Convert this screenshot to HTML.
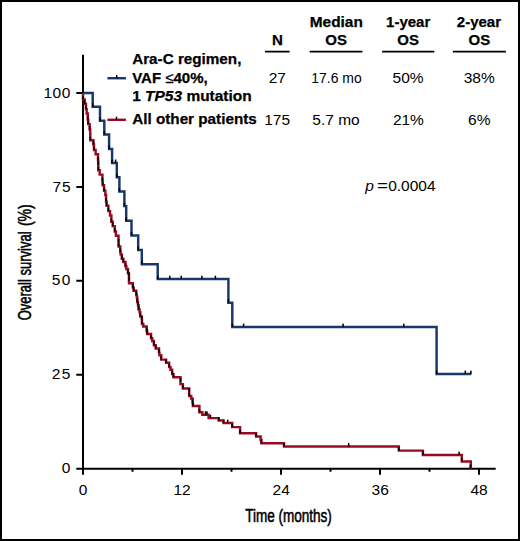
<!DOCTYPE html>
<html><head><meta charset="utf-8"><style>
html,body{margin:0;padding:0;background:#fff;}
body{width:520px;height:541px;overflow:hidden;}
svg{display:block;}
#w{width:520px;height:541px;}
text{font-family:"Liberation Sans",sans-serif;fill:#000;}
.b{font-weight:bold;font-size:15px;stroke:#000;stroke-width:0.25px;}
.r{font-size:15.5px;}
.t{font-size:15.5px;}
.c{text-anchor:middle;}
.e{text-anchor:end;}
</style></head><body><div id="w">
<svg width="520" height="541" viewBox="0 0 520 541">
<rect x="1" y="1" width="518" height="539" fill="#fff" stroke="#000" stroke-width="2"/>
<!-- axes -->
<g stroke="#000" stroke-width="2" fill="none">
<path d="M83,54.7V474.7"/>
<path d="M76.3,468.7H495.7"/>
<path d="M76.3,93.1H83M76.3,187H83M76.3,280.8H83M76.3,374.7H83"/>
<path d="M182,468.7V474.7M281,468.7V474.7M380,468.7V474.7M479,468.7V474.7"/>
<path d="M132.5,468.7V471.7M231.5,468.7V471.7M330.5,468.7V471.7M429.5,468.7V471.7"/>
</g>
<!-- y tick labels -->
<g class="r e">
<text class="t e" x="70.3" y="97.6" textLength="26.8" lengthAdjust="spacing">100</text>
<text class="t e" x="70.5" y="191.5" textLength="18" lengthAdjust="spacing">75</text>
<text class="t e" x="70.3" y="285.3" textLength="18.6" lengthAdjust="spacing">50</text>
<text class="t e" x="70.3" y="379.1" textLength="18.6" lengthAdjust="spacing">25</text>
<text class="t e" x="70.3" y="473.4">0</text>
</g>
<g>
<text class="t c" x="83" y="494.6">0</text>
<text class="t c" x="182" y="494.6">12</text>
<text class="t c" x="281.2" y="494.6">24</text>
<text class="t c" x="380.2" y="494.6">36</text>
<text class="t c" x="479.1" y="494.6">48</text>
</g>
<text transform="translate(288.5,521.6) scale(0.765,1)" style="font-size:17.7px;stroke:#000;stroke-width:0.55px" class="c">Time (months)</text>
<text transform="translate(30.7,320.3) rotate(-90) scale(0.735,1)" style="font-size:17.7px;stroke:#000;stroke-width:0.55px">Overall survival <tspan dx="2.4" style="font-size:19.2px">(%)</tspan></text>
<!-- curves -->
<path d="M83,93H83.00V99.40H84.68V103.70H85.98V109.10H86.65V113.40H87.76V119.80H88.23V124.10H89.64V129.50H90.19V133.80H90.30V140.20H93.40V144.50H93.99V149.90H95.62V154.20H98.02V160.60H98.26V164.90H98.35V170.30H99.70V174.60H102.42V181.00H102.68V185.30H104.07V190.70H105.34V195.00H106.07V201.40H106.58V205.70H108.38V211.10H110.04V215.40H111.37V221.80H112.72V226.10H114.76V231.50H115.90V235.80H118.52V242.20H118.60V246.50H120.29V251.90H120.61V254.50H121.82V258.80H123.34V262.00H125.45V266.30H126.33V268.90H127.96V273.20H128.91V276.40H129.00V280.70H129.00V283.30H132.84V287.60H133.60V290.80H136.29V295.10H136.90V297.70H137.29V302.00H137.97V305.20H138.61V309.50H139.58V312.10H140.30V316.40H141.80V319.60H142.00V323.90H143.27V326.50H146.66V330.80H147.15V334.00H151.08V338.30H152.27V340.90H153.88V345.20H155.67V348.40H159.01V352.70H159.42V355.30H161.25V359.60H166.08V362.80H169.17V367.10H170.48V369.70H172.18V374.00H173.40V377.20H180.50V381.50H180.50V384.10H182.85V388.40H189.20V391.60H189.20V395.90H191.18V398.50H192.58V402.80H192.88V406.00H199.4V412.3H202.3V414.7H208.6V418.1H218.7V420.5H223.5V423.0H232.2V427.1H240.1V433.3H256.1V436.5H260.6V439.8H261.4V443.2H284.0V446.5H398.8V450.6H422.9V455.0H461.8V461.4H470.8V468.7" stroke="#9c0a22" stroke-width="2.45" fill="none" stroke-linejoin="miter" stroke-linecap="butt"/>
<path d="M83,93.0H92.7V106.8H100.0V120.8H104.3V134.5H109.1V148.9H112.1V162.9H116.8V177.3H119.4V191.5H124.4V206.1H126.2V220.8H131.5V235.4H138.2V249.9H141.8V264.2H157.7V279.05H228.4V302.7H232.3V327.0H436.6V374.0H471.3" stroke="#17376e" stroke-width="2.45" fill="none" stroke-linejoin="miter" stroke-linecap="butt"/>
<g fill="#000"><rect x="114.85" y="159.50" width="1.5" height="3.4"/><rect x="169.05" y="275.65" width="1.5" height="3.4"/><rect x="180.45" y="275.65" width="1.5" height="3.4"/><rect x="201.15" y="275.65" width="1.5" height="3.4"/><rect x="214.65" y="275.65" width="1.5" height="3.4"/><rect x="242.85" y="323.60" width="1.5" height="3.4"/><rect x="342.35" y="323.60" width="1.5" height="3.4"/><rect x="403.05" y="323.60" width="1.5" height="3.4"/><rect x="464.55" y="370.60" width="1.5" height="3.4"/><rect x="470.15" y="370.60" width="1.5" height="3.4"/><rect x="91.95" y="103.40" width="1.5" height="3.4"/><rect x="99.25" y="117.40" width="1.5" height="3.4"/><rect x="103.55" y="131.10" width="1.5" height="3.4"/><rect x="108.35" y="145.50" width="1.5" height="3.4"/><rect x="111.35" y="159.50" width="1.5" height="3.4"/><rect x="116.05" y="173.90" width="1.5" height="3.4"/><rect x="118.65" y="188.10" width="1.5" height="3.4"/><rect x="123.65" y="202.70" width="1.5" height="3.4"/><rect x="125.45" y="217.40" width="1.5" height="3.4"/><rect x="130.75" y="232.00" width="1.5" height="3.4"/><rect x="137.45" y="246.50" width="1.5" height="3.4"/><rect x="141.05" y="260.80" width="1.5" height="3.4"/><rect x="156.95" y="275.65" width="1.5" height="3.4"/><rect x="227.65" y="299.30" width="1.5" height="3.4"/><rect x="231.55" y="323.60" width="1.5" height="3.4"/><rect x="435.85" y="370.60" width="1.5" height="3.4"/><rect x="461.05" y="458.00" width="1.5" height="3.4"/><rect x="422.15" y="451.60" width="1.5" height="3.4"/><rect x="398.05" y="447.20" width="1.5" height="3.4"/><rect x="260.65" y="439.80" width="1.5" height="3.4"/><rect x="206.25" y="411.30" width="1.5" height="3.4"/><rect x="226.95" y="419.60" width="1.5" height="3.4"/><rect x="347.95" y="443.10" width="1.5" height="3.4"/><rect x="458.35" y="451.60" width="1.5" height="3.4"/><rect x="469.65" y="464.60" width="1.5" height="3.4"/><rect x="217.95" y="417.10" width="1.5" height="3.4"/><rect x="222.75" y="419.60" width="1.5" height="3.4"/><rect x="209.75" y="414.70" width="1.5" height="3.4"/><rect x="204.75" y="411.30" width="1.5" height="3.4"/><rect x="198.65" y="408.90" width="1.5" height="3.4"/><rect x="255.35" y="433.10" width="1.5" height="3.4"/><rect x="239.35" y="429.90" width="1.5" height="3.4"/><rect x="231.45" y="423.70" width="1.5" height="3.4"/><rect x="283.25" y="443.10" width="1.5" height="3.4"/><rect x="82.25" y="96.00" width="1.5" height="3.4"/><rect x="83.93" y="100.30" width="1.5" height="3.4"/><rect x="85.23" y="105.70" width="1.5" height="3.4"/><rect x="87.01" y="116.40" width="1.5" height="3.4"/><rect x="87.48" y="120.70" width="1.5" height="3.4"/><rect x="88.89" y="126.10" width="1.5" height="3.4"/><rect x="89.55" y="136.80" width="1.5" height="3.4"/><rect x="92.65" y="141.10" width="1.5" height="3.4"/><rect x="93.24" y="146.50" width="1.5" height="3.4"/><rect x="97.27" y="157.20" width="1.5" height="3.4"/><rect x="97.51" y="161.50" width="1.5" height="3.4"/><rect x="97.60" y="166.90" width="1.5" height="3.4"/><rect x="101.67" y="177.60" width="1.5" height="3.4"/><rect x="101.93" y="181.90" width="1.5" height="3.4"/><rect x="103.32" y="187.30" width="1.5" height="3.4"/><rect x="105.32" y="198.00" width="1.5" height="3.4"/><rect x="105.83" y="202.30" width="1.5" height="3.4"/><rect x="107.63" y="207.70" width="1.5" height="3.4"/><rect x="110.62" y="218.40" width="1.5" height="3.4"/><rect x="111.97" y="222.70" width="1.5" height="3.4"/><rect x="114.01" y="228.10" width="1.5" height="3.4"/><rect x="117.77" y="238.80" width="1.5" height="3.4"/><rect x="117.85" y="243.10" width="1.5" height="3.4"/><rect x="119.54" y="248.50" width="1.5" height="3.4"/><rect x="121.07" y="255.40" width="1.5" height="3.4"/><rect x="122.59" y="258.60" width="1.5" height="3.4"/><rect x="124.70" y="262.90" width="1.5" height="3.4"/><rect x="127.21" y="269.80" width="1.5" height="3.4"/><rect x="128.16" y="273.00" width="1.5" height="3.4"/><rect x="128.25" y="277.30" width="1.5" height="3.4"/><rect x="132.09" y="284.20" width="1.5" height="3.4"/><rect x="132.85" y="287.40" width="1.5" height="3.4"/><rect x="135.54" y="291.70" width="1.5" height="3.4"/><rect x="136.54" y="298.60" width="1.5" height="3.4"/><rect x="137.22" y="301.80" width="1.5" height="3.4"/><rect x="137.86" y="306.10" width="1.5" height="3.4"/><rect x="139.55" y="313.00" width="1.5" height="3.4"/><rect x="141.05" y="316.20" width="1.5" height="3.4"/><rect x="141.25" y="320.50" width="1.5" height="3.4"/><rect x="145.91" y="327.40" width="1.5" height="3.4"/><rect x="146.40" y="330.60" width="1.5" height="3.4"/><rect x="150.33" y="334.90" width="1.5" height="3.4"/><rect x="153.13" y="341.80" width="1.5" height="3.4"/><rect x="154.92" y="345.00" width="1.5" height="3.4"/><rect x="158.26" y="349.30" width="1.5" height="3.4"/><rect x="160.50" y="356.20" width="1.5" height="3.4"/><rect x="165.33" y="359.40" width="1.5" height="3.4"/><rect x="168.42" y="363.70" width="1.5" height="3.4"/><rect x="171.43" y="370.60" width="1.5" height="3.4"/><rect x="172.65" y="373.80" width="1.5" height="3.4"/><rect x="179.75" y="378.10" width="1.5" height="3.4"/><rect x="182.10" y="385.00" width="1.5" height="3.4"/><rect x="188.45" y="388.20" width="1.5" height="3.4"/><rect x="188.45" y="392.50" width="1.5" height="3.4"/><rect x="191.83" y="399.40" width="1.5" height="3.4"/><rect x="192.13" y="402.60" width="1.5" height="3.4"/></g>
<!-- legend -->
<path d="M107.4,78.2H125.9" stroke="#17376e" stroke-width="2.45"/>
<path d="M107.4,119.8H125.9" stroke="#9c0a22" stroke-width="2.45"/>
<g fill="#000"><rect x="116" y="75" width="1.4" height="3.3"/><rect x="115.8" y="116.6" width="1.4" height="3.3"/></g>
<text class="b" x="132.2" y="64.4" textLength="109.2" lengthAdjust="spacingAndGlyphs">Ara-C regimen,</text>
<text class="b" x="132.2" y="82.5">VAF <tspan font-weight="normal">≤</tspan>40%,</text>
<text class="b" x="132.2" y="100.6" textLength="119.5" lengthAdjust="spacingAndGlyphs">1 <tspan font-style="italic">TP53</tspan> mutation</text>
<text class="b" x="132.2" y="124.1" textLength="124.6" lengthAdjust="spacingAndGlyphs">All other patients</text>
<!-- table header -->
<text class="b c" x="277.3" y="45.1">N</text>
<text class="b c" x="336.3" y="26.8" textLength="53.2" lengthAdjust="spacingAndGlyphs">Median</text>
<text class="b c" x="336.2" y="44.8">OS</text>
<text class="b c" x="408.2" y="26.8">1-year</text>
<text class="b c" x="408.2" y="44.8">OS</text>
<text class="b c" x="478.9" y="26.8">2-year</text>
<text class="b c" x="479.4" y="44.8">OS</text>
<g stroke="#000" stroke-width="1.7">
<path d="M265,51.6H289.6M309.7,51.6H362.4M382.1,51.6H434.3M452.8,51.6H505.9"/>
</g>
<text class="r c" x="277.3" y="82.9">27</text>
<text class="r c" x="336.5" y="82.9" textLength="50.5" lengthAdjust="spacingAndGlyphs">17.6 mo</text>
<text class="r c" x="408.1" y="82.9">50%</text>
<text class="r c" x="479.2" y="82.9">38%</text>
<text class="r c" x="277.2" y="124.5">175</text>
<text class="r c" x="336" y="124.5">5.7 mo</text>
<text class="r c" x="408.4" y="124.5">21%</text>
<text class="r c" x="479.3" y="124.5">6%</text>
<text class="t" x="365.3" y="191" font-style="italic">p</text>
<text class="t" x="376.9" y="191" textLength="11" lengthAdjust="spacingAndGlyphs">=</text>
<text class="t" x="388.2" y="191">0.0004</text>
</svg></div>
</body></html>
